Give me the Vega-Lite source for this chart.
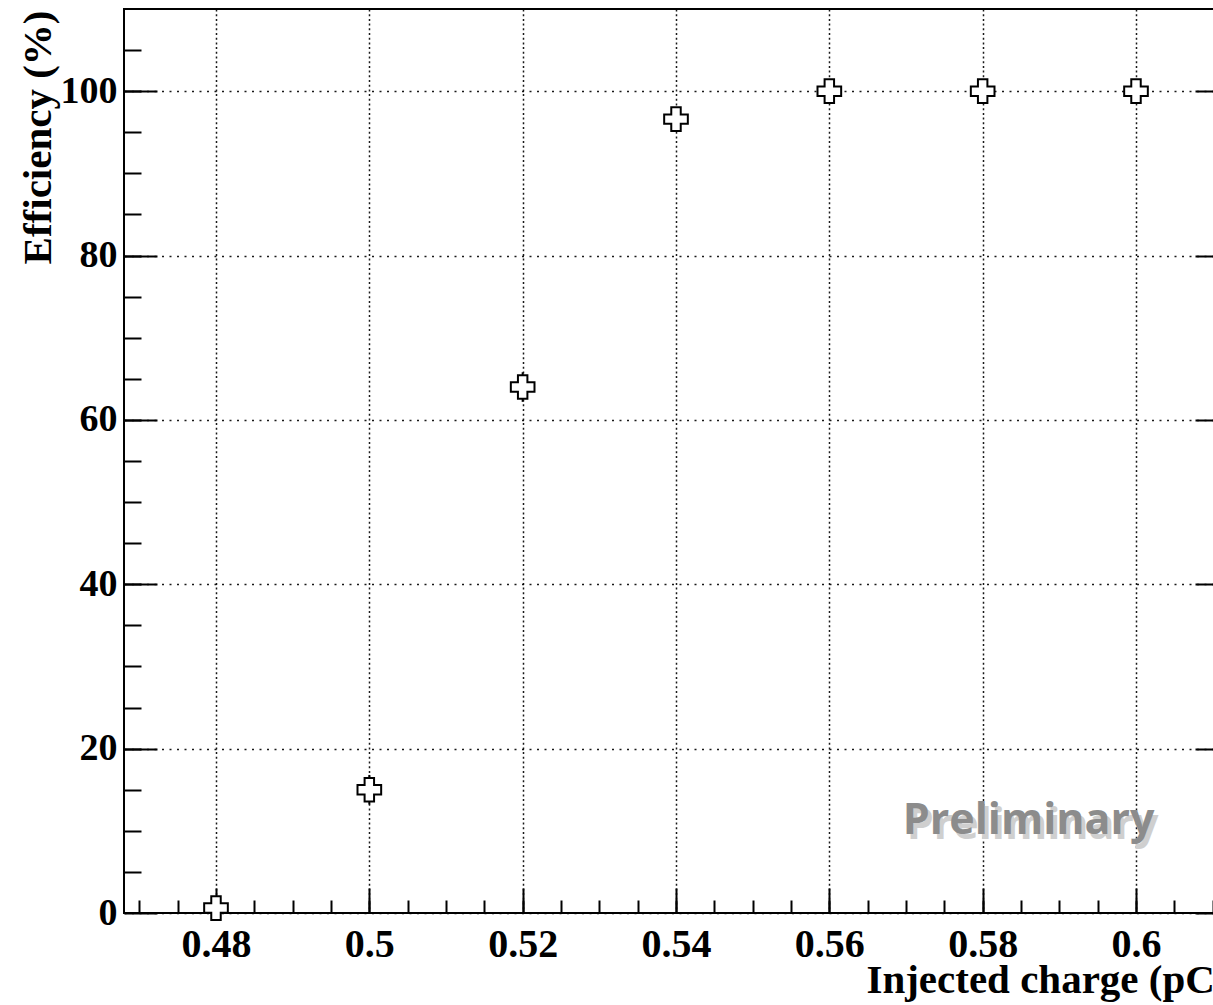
{
  "$schema": "https://vega.github.io/schema/vega-lite/v6.json",
  "width": 1104,
  "height": 904,
  "autosize": {"type": "none"},
  "padding": {"left": 124, "top": 9, "right": 0, "bottom": 92},
  "background": "white",
  "config": {"view": {"stroke": "black", "strokeWidth": 2}},
  "datasets": {
    "eff": [
      {"charge": 0.48, "efficiency": 0.6, "low": 0.2, "high": 1.0},
      {"charge": 0.50, "efficiency": 15.0, "low": 13.2, "high": 16.8},
      {"charge": 0.52, "efficiency": 64.0, "low": 62.2, "high": 65.8},
      {"charge": 0.54, "efficiency": 96.6, "low": 95.2, "high": 98.0},
      {"charge": 0.56, "efficiency": 100, "low": 100, "high": 100},
      {"charge": 0.58, "efficiency": 100, "low": 100, "high": 100},
      {"charge": 0.60, "efficiency": 100, "low": 100, "high": 100}
    ],
    "note": [{"charge": 0.586, "efficiency": 9.6, "text": "Preliminary"}]
  },
  "resolve": {"axis": {"x": "independent", "y": "independent"}},
  "layer": [
    {
      "data": {"name": "eff"},
      "mark": {"type": "rule", "color": "black", "strokeWidth": 2},
      "encoding": {
        "x": {
          "field": "charge", "type": "quantitative",
          "scale": {"domain": [0.468, 0.612], "nice": false, "zero": false},
          "axis": {
            "orient": "bottom",
            "values": [0.48, 0.5, 0.52, 0.54, 0.56, 0.58, 0.6],
            "format": ".2~f",
            "ticks": false, "domain": false,
            "grid": true, "gridColor": "black", "gridDash": [2, 2.7], "gridWidth": 1.5, "gridOpacity": 0.9,
            "labelFont": "Liberation Serif", "labelFontWeight": "bold", "labelFontSize": 40,
            "labelColor": "black", "labelPadding": 11, "labelFlush": false, "labelOverlap": false,
            "title": "Injected charge (pC)",
            "titleFont": "Liberation Serif", "titleFontWeight": "bold", "titleFontSize": 41, "titleColor": "black",
            "titleAnchor": "end", "titleAlign": "right", "titleBaseline": "alphabetic",
            "titleX": 1104, "titleY": 79
          }
        },
        "y": {
          "field": "low", "type": "quantitative",
          "scale": {"domain": [0, 110], "nice": false, "zero": false},
          "axis": {
            "orient": "left",
            "values": [0, 20, 40, 60, 80, 100],
            "ticks": false, "domain": false,
            "grid": true, "gridColor": "black", "gridDash": [2, 5.5], "gridWidth": 1.5, "gridOpacity": 0.9,
            "labelFont": "Liberation Serif", "labelFontWeight": "bold", "labelFontSize": 38,
            "labelColor": "black", "labelPadding": 7, "labelFlush": false, "labelOverlap": false,
            "title": "Efficiency (%)",
            "titleFont": "Liberation Serif", "titleFontWeight": "bold", "titleFontSize": 41, "titleColor": "black",
            "titleAngle": 270, "titleAnchor": "end", "titleAlign": "right", "titleBaseline": "alphabetic",
            "titleX": -74, "titleY": 1
          }
        },
        "y2": {"field": "high"}
      }
    },
    {
      "data": {"name": "eff"},
      "mark": {"type": "point", "shape": "cross", "size": 560, "filled": true, "fill": "white", "fillOpacity": 1, "stroke": "black", "strokeWidth": 2, "opacity": 1},
      "encoding": {
        "x": {
          "field": "charge", "type": "quantitative",
          "scale": {"domain": [0.468, 0.612], "nice": false, "zero": false},
          "axis": {
            "orient": "bottom",
            "values": [0.48, 0.5, 0.52, 0.54, 0.56, 0.58, 0.6],
            "labels": false, "grid": false, "domain": false,
            "ticks": true, "tickSize": -25, "tickWidth": 2, "tickColor": "black",
            "title": null
          }
        },
        "y": {
          "field": "efficiency", "type": "quantitative",
          "scale": {"domain": [0, 110], "nice": false, "zero": false},
          "axis": {
            "orient": "left",
            "values": [0, 20, 40, 60, 80, 100],
            "labels": false, "grid": false, "domain": false,
            "ticks": true, "tickSize": -33, "tickWidth": 2, "tickColor": "black",
            "title": null
          }
        }
      }
    },
    {
      "data": {"name": "note"},
      "mark": {"type": "text", "color": "#cfcfcf", "dx": 4, "dy": 5, "font": "Open Sans", "fontWeight": "bold", "fontSize": 43, "align": "center", "baseline": "alphabetic"},
      "encoding": {
        "x": {
          "field": "charge", "type": "quantitative",
          "scale": {"domain": [0.468, 0.612], "nice": false, "zero": false},
          "axis": {
            "orient": "bottom",
            "values": [0.47, 0.475, 0.48, 0.485, 0.49, 0.495, 0.5, 0.505, 0.51, 0.515, 0.52, 0.525, 0.53, 0.535, 0.54, 0.545, 0.55, 0.555, 0.56, 0.565, 0.57, 0.575, 0.58, 0.585, 0.59, 0.595, 0.6, 0.605, 0.61],
            "labels": false, "grid": false, "domain": false,
            "ticks": true, "tickSize": -13, "tickWidth": 2, "tickColor": "black",
            "title": null
          }
        },
        "y": {
          "field": "efficiency", "type": "quantitative",
          "scale": {"domain": [0, 110], "nice": false, "zero": false},
          "axis": {
            "orient": "left",
            "values": [5, 10, 15, 20, 25, 30, 35, 40, 45, 50, 55, 60, 65, 70, 75, 80, 85, 90, 95, 100, 105],
            "labels": false, "grid": false, "domain": false,
            "ticks": true, "tickSize": -17, "tickWidth": 2, "tickColor": "black",
            "title": null
          }
        },
        "text": {"field": "text"}
      }
    },
    {
      "data": {"name": "note"},
      "mark": {"type": "text", "color": "#8c8c8c", "font": "Open Sans", "fontWeight": "bold", "fontSize": 43, "align": "center", "baseline": "alphabetic"},
      "encoding": {
        "x": {
          "field": "charge", "type": "quantitative",
          "scale": {"domain": [0.468, 0.612], "nice": false, "zero": false},
          "axis": null
        },
        "y": {
          "field": "efficiency", "type": "quantitative",
          "scale": {"domain": [0, 110], "nice": false, "zero": false},
          "axis": {
            "orient": "right",
            "values": [0, 20, 40, 60, 80, 100],
            "labels": false, "grid": false, "domain": false,
            "ticks": true, "tickSize": -33, "tickWidth": 2, "tickColor": "black",
            "title": null
          }
        },
        "text": {"field": "text"}
      }
    }
  ]
}
